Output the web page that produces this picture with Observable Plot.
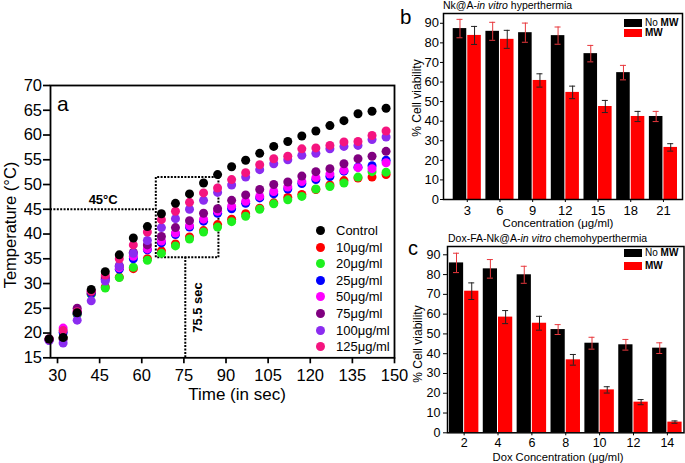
<!DOCTYPE html>
<html>
<head>
<meta charset="utf-8">
<script src="https://cdn.jsdelivr.net/npm/d3@7"></script>
<script src="https://cdn.jsdelivr.net/npm/@observablehq/plot@0.6"></script>
<style>
  body { margin: 0; background: #fff; }
  #root { position: relative; width: 685px; height: 463px; overflow: hidden; background: #fff;
          font-family: "Liberation Sans", Arial, sans-serif; color: #000; }
  #root > svg, #root > figure { position: absolute; margin: 0; overflow: visible; }
  .abs { position: absolute; white-space: nowrap; line-height: 1; font-family: "Liberation Sans", Arial, sans-serif; }
  #panelA g[aria-label^="x-axis"] path, #panelA g[aria-label^="y-axis"] path,
  #panelA g[aria-label^="x-axis"] line, #panelA g[aria-label^="y-axis"] line { stroke-width: 1.7; }
</style>
</head>
<body>
<div id="root"></div>
<script>
// ---------------- Panel a data ----------------
const times = [27,32,37,42,47,52,57,62,67,72,77,82,87,92,97,102,107,112,117,122,127,132,137,142,147];
const seriesNames = ["Control","10μg/ml","20μg/ml","25μg/ml","50μg/ml","75μg/ml","100μg/ml","125μg/ml"];
const seriesColors = ["#000000","#ff0000","#1ef01e","#0000ff","#ff00ff","#800080","#8b2cf0","#f5147f"];
const tempControl = [18.8,19.1,24.1,28.8,32.4,35.8,39.2,41.5,44.1,46.2,48.1,50.3,52.0,53.6,54.9,56.3,57.7,58.7,59.8,60.8,61.9,62.9,64.3,64.8,65.4];
const temp10  = [18.7,19.0,23.8,27.9,29.3,31.3,33.0,35.0,36.6,38.0,39.4,40.7,41.9,43.0,44.1,45.2,46.3,47.4,48.0,49.0,49.9,50.8,51.3,51.5,52.0];
const temp20  = [18.7,19.0,23.8,27.8,29.1,31.2,33.3,34.7,36.1,37.6,39.0,40.4,41.4,42.5,43.6,45.0,46.1,46.9,47.6,49.1,49.6,50.3,51.5,52.6,52.5];
const temp25  = [18.6,20.1,24.0,28.0,30.8,32.9,35.0,36.8,38.2,39.9,41.4,42.6,44.2,45.1,46.2,47.3,48.1,49.1,50.2,51.0,51.6,52.7,53.5,53.8,54.9];
const temp50  = [18.7,21.0,24.5,28.5,31.0,33.2,35.5,37.0,38.6,40.2,41.7,43.0,44.6,45.6,46.6,47.6,48.6,49.5,50.6,51.4,52.1,52.9,53.4,53.2,54.4];
const temp75  = [18.8,18.8,25.0,28.3,31.3,33.6,36.3,37.8,39.5,41.3,42.7,44.2,45.1,46.8,47.9,49.0,50.0,50.5,51.7,52.6,53.2,54.2,55.2,55.7,56.7];
const temp100 = [18.5,18.0,22.6,26.5,30.5,33.5,36.1,38.7,41.3,43.1,45.0,46.8,48.4,49.9,51.5,53.0,54.2,55.0,55.9,56.3,57.2,57.7,57.9,59.1,59.6];
const temp125 = [18.8,20.5,24.3,28.5,31.7,35.0,37.8,40.4,42.9,44.6,46.4,48.3,49.3,51.0,52.4,54.0,55.2,55.7,57.2,57.4,57.9,58.6,58.7,59.9,60.8];
const xTicksA = [30,45,60,75,90,105,120,135,150];
const yTicksA = [15,20,25,30,35,40,45,50,55,60,65,70];
const xDomainA = [27.5, 150];
const yDomainA = [15, 70];
// annotation values
const thresholdTemp = 45;        // 45°C
const thresholdTime = 75.5;      // 75.5 sec
const boxTime = [65, 87.3];
const boxTemp = [35.3, 51.5];

// ---------------- Panels b, c data ----------------
const yTicksBar = [0,10,20,30,40,50,60,70,80,90];
const groupNames = ["No MW","MW"];
const concB   = [3,6,9,12,15,18,21];
const bNoMW   = [87.3,85.9,85.2,83.7,74.5,64.8,42.4];
const bNoMWErr= [4.7,4.6,4.9,4.4,4.2,3.7,2.6];
const bMW     = [83.8,81.8,60.8,54.7,47.5,42.4,26.6];
const bMWErr  = [4.6,4.6,3.4,3.2,3.1,2.6,1.9];
const concC   = [2,4,6,8,10,12,14];
const cNoMW   = [85.9,82.9,79.9,52.2,45.3,44.5,42.8];
const cNoMWErr= [4.9,4.7,4.3,2.5,3.0,2.7,2.7];
const cMW     = [71.6,58.5,55.4,36.9,21.7,15.5,5.4];
const cMWErr  = [4.2,3.3,3.5,2.7,1.6,1.3,0.6];

const FONT = '"Liberation Sans", Arial, sans-serif';
const root = document.getElementById("root");

function place(el, left, top, id) {
  el.style.position = "absolute";
  el.style.left = left + "px";
  el.style.top = top + "px";
  if (id) el.id = id;
  root.appendChild(el);
}
function addText(html, left, top, size, extra = {}) {
  const d = document.createElement("div");
  d.className = "abs";
  d.innerHTML = html;
  d.style.left = left + "px";
  d.style.top = top + "px";
  d.style.fontSize = size + "px";
  Object.assign(d.style, extra);
  root.appendChild(d);
  return d;
}

// ---------------- Panel a ----------------
const seriesValues = [tempControl, temp10, temp20, temp25, temp50, temp75, temp100, temp125];
const drawOrder = [1,2,3,4,5,6,7,0];
const tempData = [];
for (const si of drawOrder) {
  times.forEach((t, i) => tempData.push({time: t, temp: seriesValues[si][i], series: seriesNames[si]}));
}
const boxPts = [
  {t: boxTime[0], v: boxTemp[0]}, {t: boxTime[0], v: boxTemp[1]},
  {t: boxTime[1], v: boxTemp[1]}, {t: boxTime[1], v: boxTemp[0]},
  {t: boxTime[0], v: boxTemp[0]}
];
const dotStyle = {stroke: "#000", strokeWidth: 2, strokeDasharray: "2,1.4"};

const plotA = Plot.plot({
  width: 410, height: 410,
  marginLeft: 50, marginRight: 16, marginTop: 85, marginBottom: 52.7,
  style: {background: "transparent", fontFamily: FONT, fontSize: "16.5px", color: "#000", overflow: "visible"},
  x: {domain: xDomainA, ticks: xTicksA, tickSize: 6, tickPadding: 5, label: null},
  y: {domain: yDomainA, ticks: yTicksA, tickSize: 7, tickPadding: 1.5, label: null},
  color: {domain: seriesNames, range: seriesColors},
  marks: [
    Plot.ruleY([thresholdTemp], {x1: xDomainA[0], x2: boxTime[0], ...dotStyle}),
    Plot.line(boxPts, {x: "t", y: "v", ...dotStyle, strokeLinecap: "butt"}),
    Plot.ruleX([thresholdTime], {y1: yDomainA[0], y2: boxTemp[0], ...dotStyle}),
    Plot.dot(tempData, {x: "time", y: "temp", fill: "series", r: 4.5}),
    Plot.text([{t: (xDomainA[0] + boxTime[0]) / 2, v: thresholdTemp, label: "45°C"}],
      {x: "t", y: "v", text: "label", dy: -9.5, fontSize: 13, fontWeight: "bold", fill: "#000"}),
    Plot.text([{t: thresholdTime, v: (yDomainA[0] + boxTemp[0]) / 2, label: "75.5 sec"}],
      {x: "t", y: "v", text: "label", dx: 13, rotate: -90, fontSize: 13, fontWeight: "bold", fill: "#000"}),
    Plot.frame({stroke: "#000", strokeWidth: 1.8})
  ]
});
place(plotA, 0, 0, "panelA");

// panel a texts
addText("a", 57, 92.7, 21);
addText("Time (in sec)", 237, 386.2, 17, {transform: "translateX(-50%)"});
addText("Temperature (°C)", 10, 225, 16.5, {transform: "translate(-50%,-50%) rotate(-90deg)"});
// legend a
seriesNames.forEach((name, i) => {
  const cy = 230.7 + i * 16.57;
  const m = document.createElement("div");
  Object.assign(m.style, {position: "absolute", left: (320 - 4.5) + "px", top: (cy - 4.5) + "px",
    width: "9px", height: "9px", borderRadius: "50%", background: seriesColors[i]});
  root.appendChild(m);
  addText(name, 336, cy - 6.6, 13);
});

// ---------------- Bar panels ----------------
function barPanel(cfg) {
  const {conc, noMW, noErr, mw, mwErr, width, height, mL, mR, mT, mB, yMax, pi, po, align,
         yTickSize, yTickPad, xTickPad, fontSize} = cfg;
  const bw = d3.scaleBand().domain(conc).range([mL, width - mR])
    .paddingInner(pi).paddingOuter(po).align(align).bandwidth();
  const half = bw / 2;
  const rows = conc.map((c, i) => ({c, no: noMW[i], noE: noErr[i], mw: mw[i], mwE: mwErr[i]}));
  const cBlack = (half - 0.5) / 2;
  const cRed = half + 0.5 + (half - 0.5) / 2;
  const cap = 3;
  const errRed = "#e8383d", errDark = "#222";
  return Plot.plot({
    width, height, marginLeft: mL, marginRight: mR, marginTop: mT, marginBottom: mB,
    style: {background: "transparent", fontFamily: FONT, fontSize: fontSize + "px", color: "#000", overflow: "visible"},
    x: {type: "band", domain: conc, paddingInner: pi, paddingOuter: po, align, round: false,
        tickSize: 3, tickPadding: xTickPad, label: null},
    y: {domain: [0, yMax], ticks: yTicksBar, tickSize: yTickSize, tickPadding: yTickPad, label: null},
    marks: [
      Plot.barY(rows, {x: "c", y: "no", fill: "#000", insetLeft: 0, insetRight: half + 0.5}),
      Plot.barY(rows, {x: "c", y: "mw", fill: "#ff0000", insetLeft: half + 0.5, insetRight: 0}),
      Plot.ruleX(rows, {x: "c", y1: d => d.no - d.noE, y2: d => d.no + d.noE, stroke: errRed, strokeWidth: 1, dx: cBlack - half}),
      Plot.tickY(rows, {x: "c", y: d => d.no + d.noE, stroke: errRed, strokeWidth: 1, insetLeft: cBlack - cap, insetRight: bw - cBlack - cap}),
      Plot.tickY(rows, {x: "c", y: d => d.no - d.noE, stroke: errRed, strokeWidth: 1, insetLeft: cBlack - cap, insetRight: bw - cBlack - cap}),
      Plot.ruleX(rows, {x: "c", y1: d => d.mw - d.mwE, y2: d => d.mw + d.mwE, stroke: errDark, strokeWidth: 1, dx: cRed - half}),
      Plot.tickY(rows, {x: "c", y: d => d.mw + d.mwE, stroke: errDark, strokeWidth: 1, insetLeft: cRed - cap, insetRight: bw - cRed - cap}),
      Plot.tickY(rows, {x: "c", y: d => d.mw - d.mwE, stroke: errDark, strokeWidth: 1, insetLeft: cRed - cap, insetRight: bw - cRed - cap}),
      Plot.frame({stroke: "#000", strokeWidth: 1.5})
    ]
  });
}

const plotB = barPanel({conc: concB, noMW: bNoMW, noErr: bNoMWErr, mw: bMW, mwErr: bMWErr,
  width: 300, height: 230, mL: 58, mR: 3, mT: 13, mB: 31, yMax: 95,
  pi: 0.14, po: 0.225, align: 0.66, yTickSize: 3, yTickPad: 1.5, xTickPad: 3, fontSize: 13});
place(plotB, 385, 0, "panelB");

const plotC = barPanel({conc: concC, noMW: cNoMW, noErr: cNoMWErr, mw: cMW, mwErr: cMWErr,
  width: 300, height: 233, mL: 62, mR: 1.5, mT: 16, mB: 30.7, yMax: 94.2,
  pi: 0.13, po: 0.056, align: 0.5, yTickSize: 4, yTickPad: 3, xTickPad: 2.5, fontSize: 12.5});
place(plotC, 385, 230, "panelC");

// panel b texts
addText("b", 400, 7.2, 20.5);
addText("Nk@A-<i>in vitro</i> hyperthermia", 443, 0, 10.5);
addText("Concentration (μg/ml)", 558, 218.4, 11.5, {transform: "translateX(-50%)"});
addText("% Cell viability", 417, 97.5, 12, {transform: "translate(-50%,-50%) rotate(-90deg)"});
// panel c texts
addText("c", 408, 238, 20);
addText("Dox-FA-Nk@A-<i>in vitro</i> chemohyperthermia", 448, 232.6, 10.5);
addText("Dox Concentration (μg/ml)", 558, 452, 11.2, {transform: "translateX(-50%)"});
addText("% Cell viability", 418, 344, 12, {transform: "translate(-50%,-50%) rotate(-90deg)"});

// bar legends
function barLegend(top1, top2) {
  const cols = ["#000", "#ff0000"];
  [top1, top2].forEach((t, i) => {
    const s = document.createElement("div");
    Object.assign(s.style, {position: "absolute", left: "624px", top: t + "px", width: "18px", height: "8px", background: cols[i]});
    root.appendChild(s);
  });
  addText("No <b>MW</b>", 645, top1 - 1, 10);
  addText("<b>MW</b>", 645, top2 - 1, 10);
}
barLegend(19, 29);
barLegend(249, 262);
</script>
</body>
</html>
